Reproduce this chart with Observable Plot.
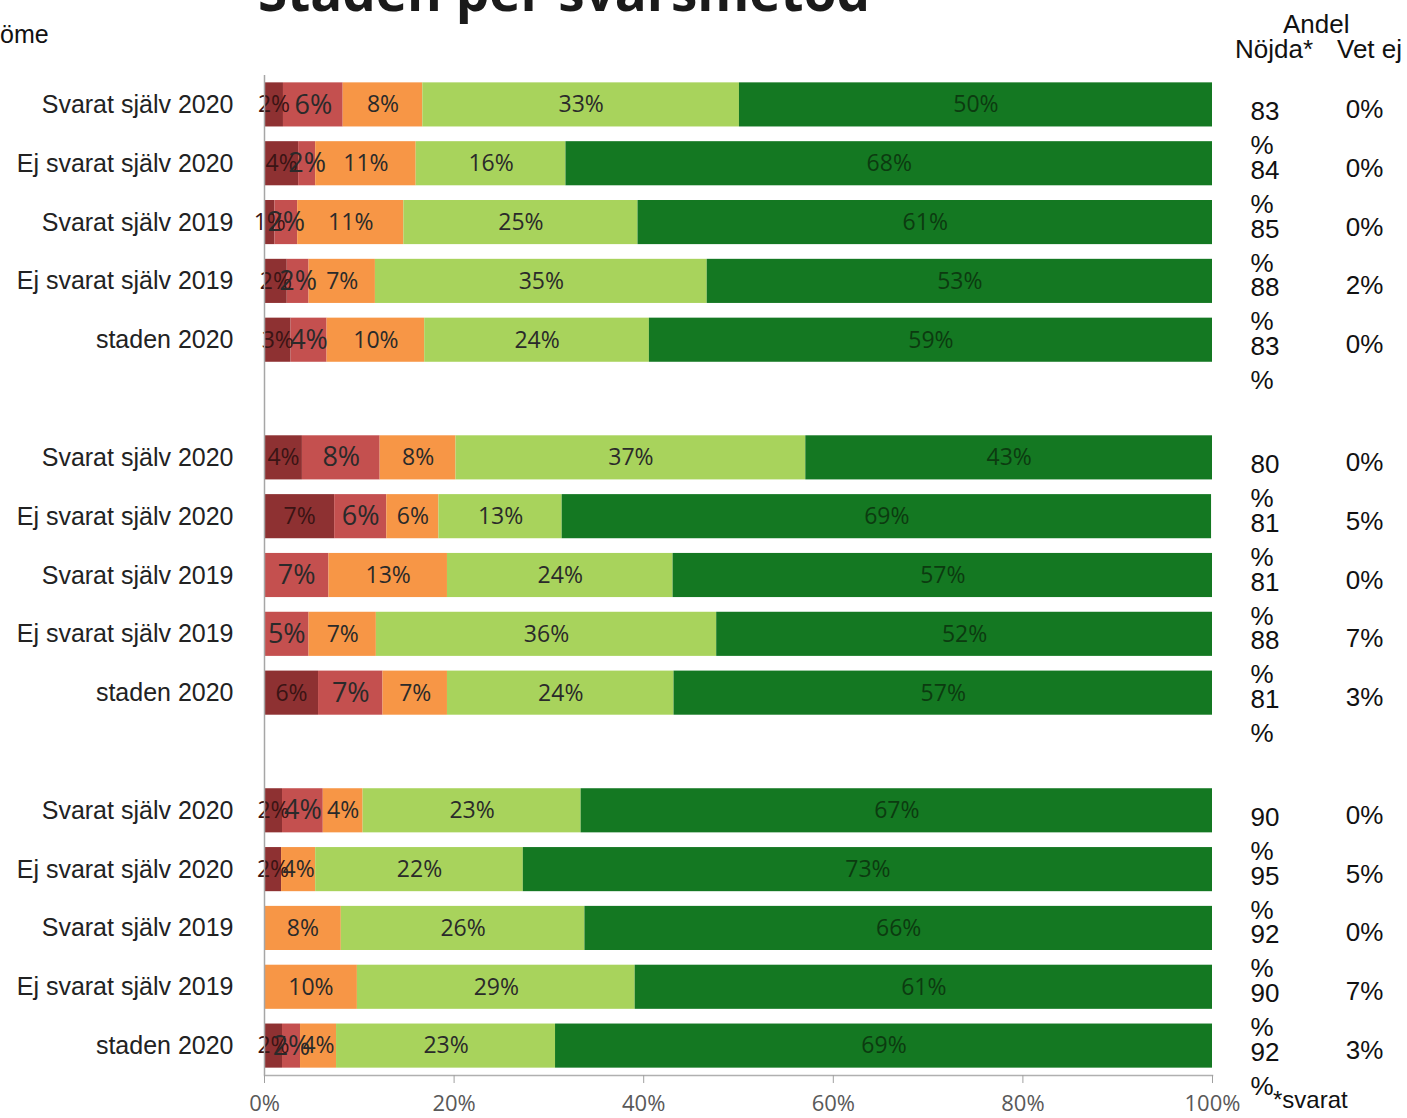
<!DOCTYPE html>
<html><head><meta charset="utf-8">
<script src="https://cdn.jsdelivr.net/npm/d3@7"></script>
<script src="https://cdn.jsdelivr.net/npm/@observablehq/plot@0.6"></script>
<style>
body{margin:0;background:#fff;}
#wrap{position:relative;width:1407px;height:1118px;overflow:hidden;background:#fff;}
#chart{position:absolute;left:0;top:0;}
.ann{position:absolute;white-space:nowrap;line-height:1;font-family:"Liberation Sans",Arial,sans-serif;color:#111;}
</style></head><body>
<div id="wrap">
<div id="chart"></div>
<div class="ann" style="left:258px;top:-36px;font-family:'Open Sans',sans-serif;font-weight:700;font-size:53px;color:#1a1a1a;">Staden per svarsmetod</div>
<div class="ann" style="left:0px;top:22px;font-size:25px;">öme</div>
<div class="ann" style="left:1283px;top:11px;font-size:26px;">Andel</div>
<div class="ann" style="left:1235px;top:36px;font-size:26px;">Nöjda*</div>
<div class="ann" style="left:1337px;top:36px;font-size:26px;">Vet ej</div>
<div class="ann" style="left:1273px;top:1088px;font-size:24px;">*svarat</div>
</div>
<script>
const groupKeys = ["A", "B", "C"];
const rowLabels = ["Svarat själv 2020", "Ej svarat själv 2020", "Svarat själv 2019", "Ej svarat själv 2019", "staden 2020"];
const seriesNames = ["Mycket missnöjd", "Missnöjd", "Varken eller", "Nöjd", "Mycket nöjd"];
const seriesColors = ["#8E3132", "#C4504F", "#F79646", "#A8D35C", "#147822"];

// values per row (15 rows: 3 groups x 5 rows), in %
const darkRed    = [2.0, 3.6, 1.1, 2.4, 2.8,  4.0, 7.4, 0,    0,    5.7,  1.9, 1.8, 0,    0,    1.9];
const red        = [6.3, 1.8, 2.4, 2.3, 3.8,  8.2, 5.5, 6.8,  4.7,  6.8,  4.3, 0,   0,    0,    1.9];
const orange     = [8.4, 10.6, 11.2, 7.0, 10.3, 8.0, 5.5, 12.5, 7.1, 6.8, 4.2, 3.6, 8.1,  9.8,  3.8];
const lightGreen = [33.4, 15.8, 24.7, 35.0, 23.7, 36.9, 13.0, 23.8, 35.9, 23.9, 23.0, 21.9, 25.7, 29.3, 23.1];
const darkGreen  = [49.9, 68.2, 60.6, 53.3, 59.4, 42.9, 68.5, 56.9, 52.3, 56.8, 66.6, 72.7, 66.2, 60.9, 69.3];
const andelNojda = [83, 84, 85, 88, 83, 80, 81, 81, 88, 81, 90, 95, 92, 90, 92];
const vetEj      = [0, 0, 0, 2, 0, 0, 5, 0, 7, 3, 0, 5, 0, 7, 3];

const seriesValues = [darkRed, red, orange, lightGreen, darkGreen];

const rows = [];
groupKeys.forEach((g, gi) => rowLabels.forEach((lab, ri) => {
  const i = gi * 5 + ri;
  rows.push({key: g + "|" + lab, label: lab, i, nojda: andelNojda[i], vetej: vetEj[i]});
}));
const yDomain = [];
groupKeys.forEach((g, gi) => {
  rowLabels.forEach(lab => yDomain.push(g + "|" + lab));
  if (gi < groupKeys.length - 1) yDomain.push("gap" + gi);
});

const data = [];
rows.forEach(r => seriesNames.forEach((s, si) => {
  const v = seriesValues[si][r.i];
  if (v > 0) data.push({key: r.key, series: s, si, value: v});
}));

const labelFont = "'Open Sans', sans-serif";
const chart = Plot.plot({
  width: 1407,
  height: 1118,
  marginLeft: 264,
  marginRight: 195,
  marginTop: 75,
  marginBottom: 43,
  style: {background: "#fff", fontFamily: "'Liberation Sans', Arial, sans-serif"},
  x: {domain: [0, 100]},
  y: {domain: yDomain, paddingInner: 0.25, paddingOuter: 0.125, round: false},
  color: {domain: seriesNames, range: seriesColors},
  marks: [
    Plot.barX(data, Plot.stackX({x: "value", y: "key", fill: "series", z: "series", order: null})),
    Plot.text(data, Plot.stackX({
      x: "value", y: "key", z: "series", order: null,
      text: d => Math.round(d.value) + "%",
      fill: d => d.si === 4 ? "#0c3b10" : (d.si === 0 ? "#3a1414" : "#2a2a2a"),
      fontSize: d => d.si === 1 ? 27 : 23,
      fontFamily: labelFont
    })),
    Plot.ruleX([0], {stroke: "#a6a6a6", strokeWidth: 1.5}),
    Plot.frame({anchor: "bottom", stroke: "#b0b0b0", strokeWidth: 1.5}),
    Plot.axisX({
      ticks: [0, 20, 40, 60, 80, 100], tickFormat: d => d + "%", tickSize: 8, tickPadding: 12,
      fontSize: 22, fontFamily: labelFont, fill: "#595959", stroke: "#a0a0a0", label: null
    }),
    Plot.axisY({
      tickSize: 0, tickPadding: 31, fontSize: 25, fill: "#222", label: null,
      tickFormat: k => k.startsWith("gap") ? "" : k.split("|")[1]
    }),
    Plot.text(rows, {y: "key", text: d => String(d.nojda), frameAnchor: "right", dx: 38, dy: 15,
      textAnchor: "start", lineAnchor: "bottom", fontSize: 26, fill: "#111"}),
    Plot.text(rows, {y: "key", text: d => "%", frameAnchor: "right", dx: 38, dy: 49,
      textAnchor: "start", lineAnchor: "bottom", fontSize: 26, fill: "#111"}),
    Plot.text(rows, {y: "key", text: d => d.vetej + "%", frameAnchor: "right", dx: 152, dy: 13,
      textAnchor: "middle", lineAnchor: "bottom", fontSize: 26, fill: "#111"})
  ]
});
document.getElementById("chart").appendChild(chart);
</script>
</body></html>
